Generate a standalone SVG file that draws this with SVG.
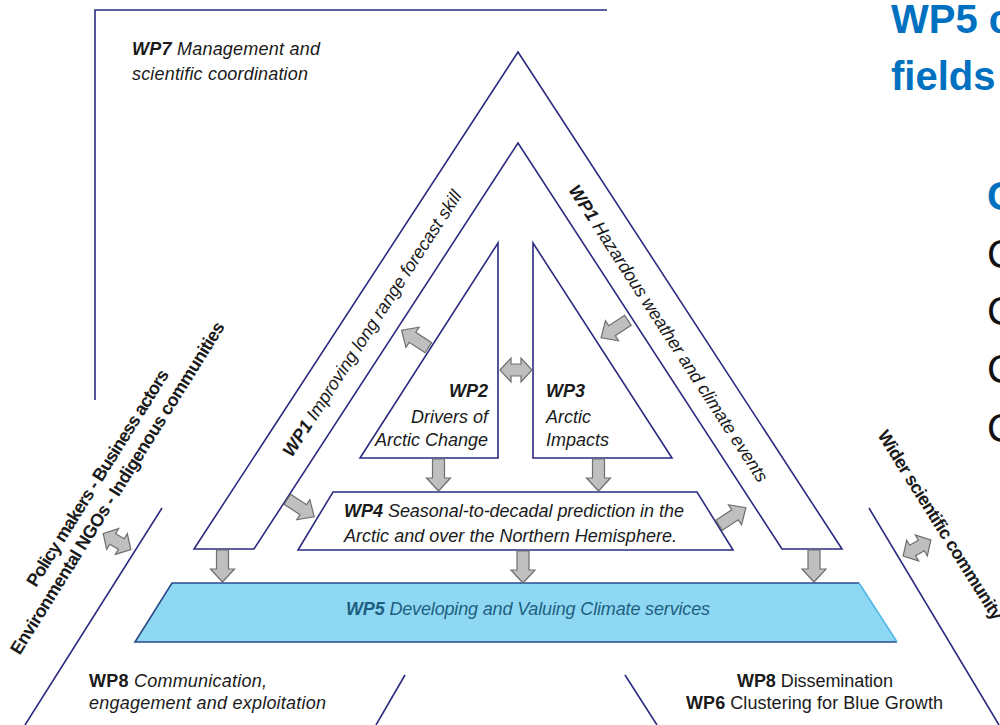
<svg xmlns="http://www.w3.org/2000/svg" width="1000" height="725" viewBox="0 0 1000 725">
<style>
.ln{fill:none;stroke:#2b2b80;stroke-width:1.6}
.box{fill:#ffffff;stroke:#2b2b80;stroke-width:1.6}
.t{font-family:"Liberation Sans",Arial,sans-serif;font-size:18px;fill:#1a1a1a}
.i{font-style:italic}
.b{font-weight:bold}
.arr{fill:#bfbfbf;stroke:#6e6e6e;stroke-width:1.2}
.title{font-family:"Liberation Sans",Arial,sans-serif;font-weight:bold;font-size:40px;fill:#0070c0}
.big{font-family:"Liberation Sans",Arial,sans-serif;font-size:40px;fill:#111111}
</style>
<defs>
<path id="a" d="M0,-6H19V-12L32,0L19,12V6H0Z"/>
<path id="d" d="M-16,0L-5,-12V-6H5V-12L16,0L5,12V6H-5V12Z"/>
</defs>
<rect x="0" y="0" width="1000" height="725" fill="#ffffff"/>

<g id="title">
<text class="title" x="891" y="33">WP5 c</text>
<text class="title" x="891" y="90">fields</text>
<text class="title" x="987" y="210" font-size="42">C</text>
<text class="big" x="987" y="268">C</text>
<text class="big" x="987" y="325">C</text>
<text class="big" x="987" y="383">C</text>
<text class="big" x="987" y="442">C</text>
</g>

<g id="wp7">
<polyline class="ln" points="95,400 95,10 607,10"/>
<text class="t" x="132" y="55" textLength="188"><tspan class="b i">WP7</tspan><tspan class="i"> Management and</tspan></text>
<text class="t i" x="132" y="80" textLength="176">scientific coordination</text>
</g>

<g id="wp1">
<polygon class="box" points="518,52 842,549 782,549 518,143 254,549 194,549"/>
<text class="t" transform="translate(292,458) rotate(-57)" x="0" y="0" font-size="17.5" textLength="313"><tspan class="b i">WP1</tspan><tspan class="i"> Improving long range forecast skill</tspan></text>
<text class="t" transform="translate(568,190) rotate(57)" x="0" y="0" font-size="17.5" textLength="350"><tspan class="b i">WP1</tspan><tspan class="i"> Hazardous weather and climate events</tspan></text>
</g>

<g id="wp2">
<polygon class="box" points="498,243 498,458 360,458"/>
<text class="t b i" x="488" y="397" text-anchor="end">WP2</text>
<text class="t i" x="488" y="422.5" text-anchor="end">Drivers of</text>
<text class="t i" x="488" y="446" text-anchor="end">Arctic Change</text>
</g>

<g id="wp3">
<polygon class="box" points="533,243 533,458 672,458"/>
<text class="t b i" x="546" y="397">WP3</text>
<text class="t i" x="546" y="422.5">Arctic</text>
<text class="t i" x="546" y="446">Impacts</text>
</g>

<g id="wp4">
<polygon class="box" points="333,492 697,492 733,550 298,550"/>
<text class="t" x="344" y="517" textLength="340"><tspan class="b i">WP4</tspan><tspan class="i"> Seasonal-to-decadal prediction in the</tspan></text>
<text class="t i" x="344" y="542" textLength="333">Arctic and over the Northern Hemisphere.</text>
</g>

<g id="wp5">
<polygon points="172,583 859,583 897,642 135,642" fill="#8fd8f4"/>
<polyline points="897,642 135,642 172,583 859,583" fill="none" stroke="#2b4a8a" stroke-width="1.6"/>
<line x1="859" y1="583" x2="897" y2="642" stroke="#4fb6e6" stroke-width="1.6"/>
<text class="t" x="346" y="615" font-size="17.5" textLength="364" fill="#1d5f80" style="fill:#1d5f80"><tspan class="b i">WP5</tspan><tspan class="i"> Developing and Valuing Climate services</tspan></text>
</g>

<g id="stakeholders">
<line class="ln" x1="162" y1="508" x2="25" y2="725"/>
<g transform="translate(36,588) rotate(-58)">
<text class="t b" x="0" y="0" font-size="17" textLength="252">Policy makers - Business actors</text>
<text class="t b" x="-66" y="22" font-size="17" textLength="388">Environmental NGOs - Indigenous communities</text>
</g>
</g>

<g id="science">
<line class="ln" x1="869" y1="508" x2="999" y2="725"/>
<text class="t b" transform="translate(877,435) rotate(58)" x="0" y="0" font-size="17" textLength="220">Wider scientific community</text>
</g>

<g id="wp8left">
<line class="ln" x1="405" y1="675" x2="376" y2="725"/>
<text class="t" x="89" y="687" textLength="178"><tspan class="b">WP8</tspan><tspan class="i"> Communication,</tspan></text>
<text class="t i" x="89" y="709" textLength="237">engagement and exploitation</text>
</g>

<g id="wp8right">
<line class="ln" x1="625" y1="675" x2="657" y2="725"/>
<text class="t" x="815" y="687" text-anchor="middle" textLength="156"><tspan class="b">WP8</tspan> Dissemination</text>
<text class="t" x="814.5" y="709" text-anchor="middle" textLength="257"><tspan class="b">WP6</tspan> Clustering for Blue Growth</text>
</g>

<g id="connectors">
<use href="#a" class="arr" transform="translate(222.5,550) rotate(90)"/>
<use href="#a" class="arr" transform="translate(523,551) rotate(90)"/>
<use href="#a" class="arr" transform="translate(814,550) rotate(90)"/>
<use href="#a" class="arr" transform="translate(438.5,459) rotate(90)"/>
<use href="#a" class="arr" transform="translate(598.5,459) rotate(90)"/>
<use href="#a" class="arr" transform="translate(428.4,347.7) rotate(-146.9)"/>
<use href="#a" class="arr" transform="translate(627.9,320.3) rotate(146.9)"/>
<use href="#a" class="arr" transform="translate(287.4,499.3) rotate(33.1)"/>
<use href="#a" class="arr" transform="translate(719.1,525.2) rotate(-33.1)"/>
<use href="#d" class="arr" transform="translate(516,370)"/>
<use href="#d" class="arr" transform="translate(117,541.5) rotate(30)"/>
<use href="#d" class="arr" transform="translate(917,548) rotate(-30)"/>
</g>
</svg>
